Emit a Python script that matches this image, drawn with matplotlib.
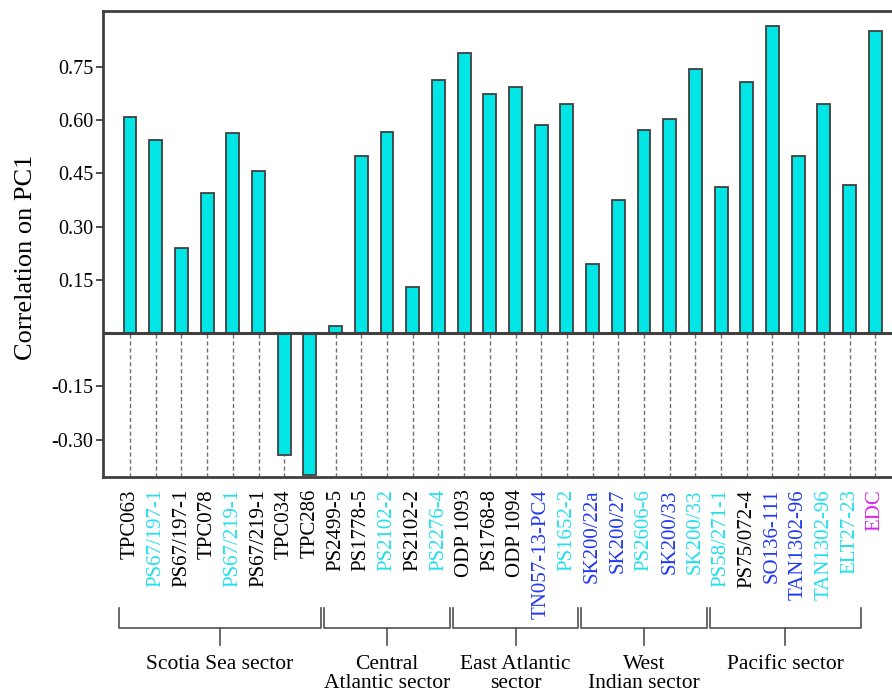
import matplotlib
matplotlib.use("Agg")
import matplotlib.pyplot as plt
import matplotlib.transforms as mtransforms
import numpy as np

# core names, colour class of each label, correlation on PC1
cores = [
    "TPC063", "PS67/197-1", "PS67/197-1", "TPC078", "PS67/219-1", "PS67/219-1",
    "TPC034", "TPC286",
    "PS2499-5", "PS1778-5", "PS2102-2", "PS2102-2", "PS2276-4",
    "ODP 1093", "PS1768-8", "ODP 1094", "TN057-13-PC4", "PS1652-2",
    "SK200/22a", "SK200/27", "PS2606-6", "SK200/33", "SK200/33",
    "PS58/271-1", "PS75/072-4", "SO136-111", "TAN1302-96", "TAN1302-96", "ELT27-23",
    "EDC",
]
label_kind = [
    "k", "c", "k", "k", "c", "k", "k", "k",
    "k", "k", "c", "k", "c",
    "k", "k", "k", "b", "c",
    "b", "b", "c", "b", "c",
    "c", "k", "b", "b", "c", "c",
    "m",
]
corr = [
    0.608, 0.543, 0.239, 0.394, 0.564, 0.456, -0.344, -0.398,
    0.020, 0.499, 0.566, 0.131, 0.712,
    0.789, 0.674, 0.693, 0.586, 0.644,
    0.195, 0.374, 0.573, 0.603, 0.743,
    0.411, 0.706, 0.865, 0.499, 0.646, 0.418,
    0.852,
]
sectors = ["Scotia Sea sector", "Central\nAtlantic sector", "East Atlantic\nsector",
           "West\nIndian sector", "Pacific sector"]
sector_span = [(0, 7), (8, 12), (13, 17), (18, 22), (23, 28)]
yticks = [-0.30, -0.15, 0.15, 0.30, 0.45, 0.60, 0.75]

palette = {"k": "black", "c": "#22dfee", "b": "#2038f0", "m": "#dd22ee"}
dark = "#404040"

plt.rcParams["font.family"] = ["Liberation Serif", "DejaVu Serif"]

fig = plt.figure(figsize=(8.92, 6.92), dpi=100)
ax = fig.add_axes([0.1155, 0.3107, 0.8845, 0.6734])

x = np.arange(len(cores))
ax.bar(x, corr, width=0.5, color="#00e5e5", edgecolor=dark, linewidth=1.3, zorder=3)

ax.set_ylim(-0.405, 0.907)
ax.set_xlim(-1.05, 29.65)

# dashed guides below the zero line
ax.vlines(x, -0.405, 0, colors="#707070", linestyles=(0, (3, 2)), linewidth=1.0, zorder=1)
ax.axhline(0, color=dark, linewidth=2.2, zorder=4)

for side in ["left", "top", "bottom"]:
    ax.spines[side].set_color(dark)
    ax.spines[side].set_linewidth(2.0)
ax.spines["right"].set_visible(False)

ax.set_yticks(yticks)
ax.set_yticklabels([f"{v:.2f}" for v in yticks], fontsize=14.5)
ax.tick_params(axis="y", direction="out", length=5, width=1.3, color=dark, pad=2)
ax.set_xticks([])
ax.set_ylabel("Correlation on PC1", fontsize=19)
ax.yaxis.set_label_coords(-0.084, 0.472)

trans = mtransforms.blended_transform_factory(ax.transData, ax.transAxes)
for i, (name, kind) in enumerate(zip(cores, label_kind)):
    ax.text(i, -0.026, name, rotation=90, ha="center", va="top", fontsize=15,
            color=palette[kind], transform=trans, clip_on=False)

y_top, y_mid, y_tick = -0.281, -0.324, -0.361
for (a, b), name in zip(sector_span, sectors):
    left = a - 0.44
    right = b + 0.44
    centre = (left + right) / 2
    ax.plot([left, left, right, right], [y_top, y_mid, y_mid, y_top], color="#505050",
            linewidth=1.2, transform=trans, clip_on=False)
    ax.plot([centre, centre], [y_mid, y_tick], color="#505050", linewidth=1.2,
            transform=trans, clip_on=False)
    ax.text(centre, -0.383, name, ha="center", va="top", fontsize=15.5,
            linespacing=1.0, transform=trans, clip_on=False)

fig.savefig("out.png", dpi=100)
